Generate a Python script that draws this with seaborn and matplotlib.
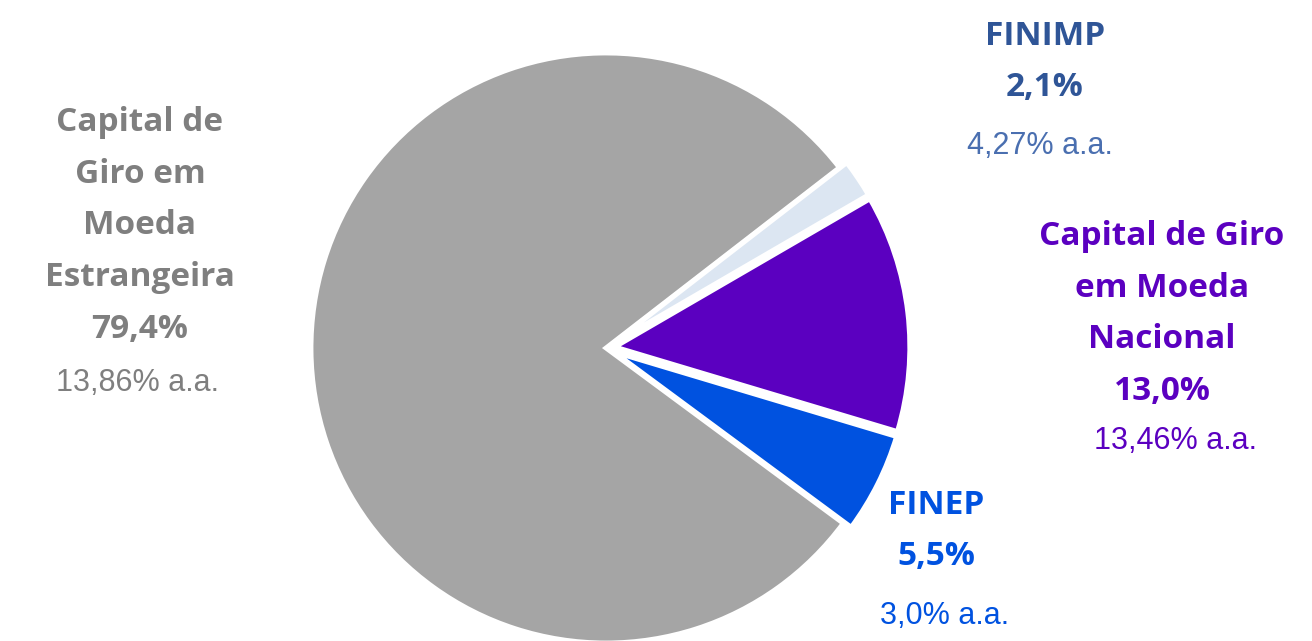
import matplotlib
matplotlib.use("Agg")
import matplotlib.pyplot as plt
import seaborn as sns

sns.set_theme(style="white")

# data (counter-clockwise order from the top-right edge of the grey slice)
names = ["Capital de\nGiro em\nMoeda\nEstrangeira", "FINEP",
         "Capital de Giro\nem Moeda\nNacional", "FINIMP"]
shares = [79.4, 5.5, 13.0, 2.1]
share_labels = ["79,4%", "5,5%", "13,0%", "2,1%"]
rates = ["13,86% a.a.", "3,0% a.a.", "13,46% a.a.", "4,27% a.a."]

slice_colors = ["#A5A5A5", "#0052E0", "#5B00C0", "#DCE6F2"]
title_colors = ["#7F7F7F", "#0052E0", "#5B00C0", "#2F5597"]
rate_colors = ["#7F7F7F", "#0052E0", "#5B00C0", "#4A6FB0"]

W, H = 1312, 641
fig = plt.figure(figsize=(W / 100, H / 100), dpi=100)

# pie placed by pixel centre/radius
cx, cy, r = 606, 348, 295
ax = fig.add_axes([(cx - r) / W, (H - cy - r) / H, 2 * r / W, 2 * r / H])
wedges, _ = ax.pie(shares, colors=slice_colors, startangle=37.7, counterclock=True,
                   explode=[0, 0.03, 0.03, 0.03],
                   wedgeprops=dict(edgecolor="white", linewidth=3.5))
for w in wedges:
    w.set_clip_on(False)
ax.set_xlim(-1, 1)
ax.set_ylim(-1, 1)
ax.set_aspect("equal")
ax.axis("off")

# label placement in pixels: (x, y of bold block centre, x, y of rate line)
label_pos = [
    (140, 226, 137, 383),
    (936, 531, 945, 616),
    (1162, 314, 1175, 441),
    (1045, 62, 1040, 146),
]


def px(x, y):
    return x / W, 1 - y / H


for i in range(len(names)):
    bx, by, rx, ry = label_pos[i]
    fig.text(*px(bx, by), names[i] + "\n" + share_labels[i], ha="center", va="center",
             fontsize=24, fontweight="bold", family=["Open Sans", "DejaVu Sans"],
             color=title_colors[i], linespacing=1.75, multialignment="center")
    fig.text(*px(rx, ry), rates[i], ha="center", va="center", fontsize=22,
             family=["Liberation Sans", "DejaVu Sans"], color=rate_colors[i])

fig.savefig("out.png", dpi=100)
